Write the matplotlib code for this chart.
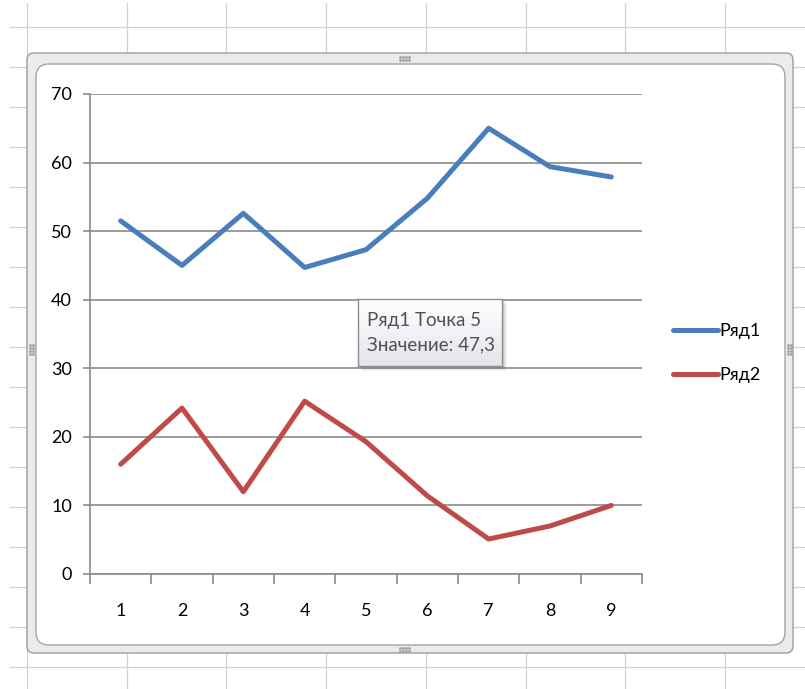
import numpy as np
import matplotlib.pyplot as plt
from matplotlib.patches import FancyBboxPatch, Rectangle
from matplotlib.lines import Line2D
from matplotlib.colors import LinearSegmentedColormap

# Data
points = [1, 2, 3, 4, 5, 6, 7, 8, 9]
ryad1 = [51.5, 45.0, 52.6, 44.7, 47.3, 54.8, 65.0, 59.4, 57.9]
ryad2 = [16.0, 24.2, 12.0, 25.2, 19.3, 11.4, 5.1, 7.0, 10.0]
series_names = ["Ряд1", "Ряд2"]
y_ticks = [0, 10, 20, 30, 40, 50, 60, 70]
tip_point = 5  # point shown in the hover box

W, H = 805, 689
BLUE = "#4a7ebb"
RED = "#be4b48"
AXIS_GREY = "#8a8a8a"

plt.rcParams["font.family"] = ["Lato", "DejaVu Sans"]


def ix(x):
    # pixel column -> inches from left
    return x / 100.0


def iy(y):
    # pixel row (from top) -> inches from bottom
    return (H - y) / 100.0


fig = plt.figure(figsize=(W / 100, H / 100), dpi=100)
tr = fig.dpi_scale_trans

# Worksheet cell grid behind the chart
for x in np.arange(27, W, 99.7):
    fig.add_artist(Line2D([ix(x), ix(x)], [iy(3), iy(H)], transform=tr,
                          color="#d2d2d2", lw=0.9, zorder=-5))
for y in np.arange(27, H, 40):
    fig.add_artist(Line2D([ix(10), ix(W)], [iy(y), iy(y)], transform=tr,
                          color="#d2d2d2", lw=0.9, zorder=-5))

# Chart object frame (selected state) and white chart area
outer = FancyBboxPatch((ix(27), iy(653)), ix(793 - 27), (653 - 53) / 100.0,
                       boxstyle="round,pad=0,rounding_size=0.07", transform=tr,
                       facecolor="#ebebeb", edgecolor="#9c9c9c", lw=1.0, zorder=-3)
inner = FancyBboxPatch((ix(36), iy(645)), ix(785 - 36), (645 - 64) / 100.0,
                       boxstyle="round,pad=0,rounding_size=0.13", transform=tr,
                       facecolor="white", edgecolor="#a4a4a4", lw=1.0, zorder=-2)
fig.add_artist(outer)
fig.add_artist(inner)

# Resize handles on the frame
for cx, cy, horiz in [(405, 58, True), (405, 649, True), (31, 350, False), (789, 350, False)]:
    offs = np.array([-5, -2, 1, 4])
    for k in (-1.5, 1.5):
        if horiz:
            xs, ys = cx + offs, np.full(4, cy + k)
        else:
            xs, ys = np.full(4, cx + k), cy + offs
        fig.add_artist(Line2D(ix(xs), iy(ys), transform=tr, ls="none", marker="s",
                              ms=0.9, color="#a0a0a0", zorder=-1))

# Plot area
ax = fig.add_axes([90 / W, (H - 574) / H, (642 - 90) / W, (574 - 94) / H])
ax.patch.set_visible(False)

ax.plot(points, ryad1, color=BLUE, lw=3.6, solid_joinstyle="round",
        solid_capstyle="round", label=series_names[0], zorder=3)
ax.plot(points, ryad2, color=RED, lw=3.6, solid_joinstyle="round",
        solid_capstyle="round", label=series_names[1], zorder=3)

ax.set_xlim(0.5, 9.5)
ax.set_ylim(0, 70)
ax.set_yticks(y_ticks)
ax.set_xticks(points)
ax.set_xticks(np.arange(0.5, 10, 1), minor=True)
ax.yaxis.grid(True, color=AXIS_GREY, lw=1.2)
ax.set_axisbelow(True)

ax.tick_params(axis="x", which="major", length=0, pad=21, labelsize=13)
ax.tick_params(axis="x", which="minor", length=7, width=1.2, color=AXIS_GREY)
ax.tick_params(axis="y", length=5, width=1.2, color=AXIS_GREY, pad=8, labelsize=13)

for side in ["top", "right"]:
    ax.spines[side].set_visible(False)
for side in ["left", "bottom"]:
    ax.spines[side].set_color(AXIS_GREY)
    ax.spines[side].set_linewidth(1.2)

fig.legend(loc="center left", bbox_to_anchor=(ix(673), iy(353)),
           bbox_transform=tr, frameon=False, fontsize=13, handlelength=2.5,
           handletextpad=0.05, labelspacing=1.55, borderpad=0, borderaxespad=0)

# Hover box for one point of Ряд1
bx0, by0, bx1, by1 = 358, 299, 502, 366
for d, a in [(5, 0.06), (4, 0.08), (3, 0.10), (2, 0.12)]:
    fig.add_artist(Rectangle((ix(bx0 + d), iy(by1 + d)), ix(bx1 - bx0), (by1 - by0) / 100.0,
                             transform=tr, facecolor="#606060", edgecolor="none",
                             alpha=a, zorder=5))

tip = fig.add_axes([bx0 / W, (H - by1) / H, (bx1 - bx0) / W, (by1 - by0) / H], zorder=6)
grad = LinearSegmentedColormap.from_list("tip", ["#e3e5ec", "#ffffff"])
tip.imshow(np.linspace(0, 1, 64).reshape(-1, 1), cmap=grad, aspect="auto",
           extent=[0, 1, 0, 1], origin="lower")
tip.set_xticks([])
tip.set_yticks([])
for s in tip.spines.values():
    s.set_color("#8e8e8e")
    s.set_linewidth(1.0)

value_txt = f"{ryad1[tip_point - 1]:.1f}".replace(".", ",")
tip.text(0.063, 0.6, f"{series_names[0]} Точка {tip_point}", transform=tip.transAxes,
         fontsize=13.5, color="#505050", va="baseline")
tip.text(0.063, 0.24, f"Значение: {value_txt}", transform=tip.transAxes,
         fontsize=13.5, color="#505050", va="baseline")

fig.savefig("out.png", dpi=100)
